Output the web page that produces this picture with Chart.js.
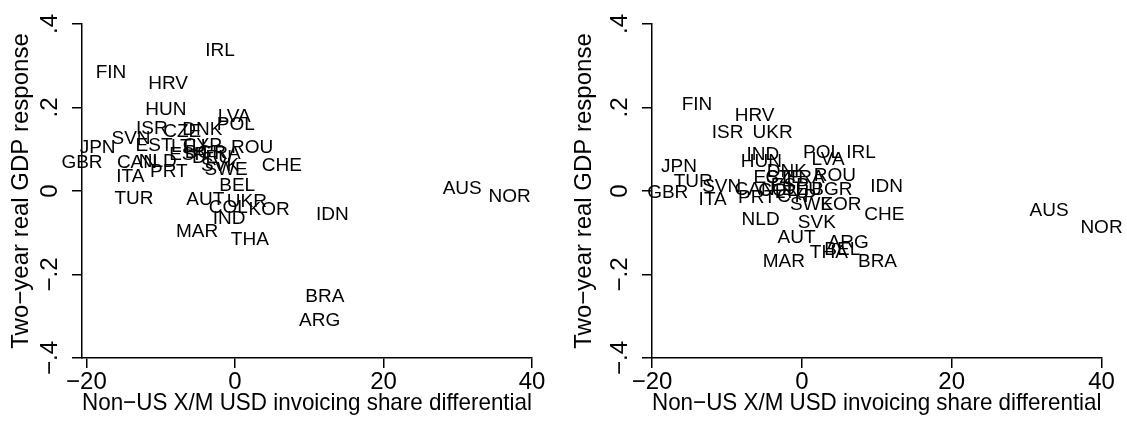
<!DOCTYPE html>
<html>
<head>
<meta charset="utf-8">
<script src="https://cdn.jsdelivr.net/npm/chart.js@4.4.0/dist/chart.umd.min.js"></script>
<style>
  html, body { margin: 0; padding: 0; background: #fff; overflow: hidden; }
  #wrap { display: flex; width: 1127px; height: 421px; }
  canvas { display: block; }
</style>
</head>
<body>
<div id="wrap">
  <canvas id="left" width="563" height="421"></canvas>
  <canvas id="right" width="564" height="421"></canvas>
</div>
<script>
  // left panel
  var leftCountries = ["IRL", "FIN", "HRV", "HUN", "LVA", "POL", "ISR", "CZE", "DNK", "SVN",
                       "EST", "LTU", "CYP", "ROU", "JPN", "GBR", "CAN", "NLD", "ESP", "BGR",
                       "DEU", "FRA", "PRT", "ITA", "SVK", "SWE", "CHE", "TUR", "BEL", "AUT",
                       "COL", "UKR", "KOR", "IND", "MAR", "THA", "IDN", "AUS", "NOR", "BRA", "ARG"];
  var leftX = [-2.0, -16.7, -9.0, -9.3, -0.1, 0.1, -11.2, -7.1, -4.4, -14.0,
               -10.9, -6.3, -4.4, 2.3, -18.5, -20.6, -13.2, -10.4, -6.3, -4.0,
               -3.1, -1.8, -8.9, -14.1, -2.0, -1.2, 6.3, -13.6, 0.3, -4.0,
               -0.9, 1.6, 4.6, -0.8, -5.1, 2.0, 13.1, 30.6, 37.0, 12.1, 11.4];
  var leftY = [0.336, 0.283, 0.257, 0.194, 0.178, 0.158, 0.149, 0.142, 0.146, 0.125,
               0.108, 0.106, 0.108, 0.103, 0.103, 0.067, 0.067, 0.070, 0.086, 0.091,
               0.079, 0.089, 0.046, 0.034, 0.060, 0.050, 0.060, -0.019, 0.012, -0.022,
               -0.041, -0.026, -0.046, -0.067, -0.098, -0.118, -0.058, 0.005, -0.014, -0.254, -0.310];

  // right panel
  var rightCountries = ["FIN", "HRV", "ISR", "UKR", "IND", "HUN", "POL", "LVA", "IRL", "JPN",
                        "DNK", "TUR", "SVN", "GBR", "EST", "CZE", "ESP", "FRA", "ROU", "CAN",
                        "PRT", "ITA", "DEU", "COL", "LTU", "CYP", "BGR", "IDN", "SWE", "KOR",
                        "CHE", "NLD", "SVK", "AUT", "ARG", "THA", "BEL", "MAR", "BRA", "AUS", "NOR"];
  var rightX = [-14.0, -6.3, -9.9, -3.9, -5.2, -5.4, 2.7, 3.5, 7.9, -16.4,
                -2.0, -14.5, -10.7, -17.9, -4.0, -2.3, -1.6, 0.5, 4.4, -6.3,
                -6.0, -11.9, 0.0, -3.2, -1.3, -0.7, 4.0, 11.3, 1.3, 5.2,
                11.0, -5.5, 2.0, -0.7, 6.2, 3.6, 5.4, -2.4, 10.1, 33.0, 40.0];
  var rightY = [0.206, 0.180, 0.139, 0.139, 0.086, 0.069, 0.091, 0.074, 0.091, 0.057,
                0.046, 0.022, 0.010, -0.005, 0.031, 0.031, 0.012, 0.031, 0.036, 0.002,
                -0.017, -0.022, 0.002, 0.000, -0.005, -0.014, 0.002, 0.010, -0.034, -0.034,
                -0.058, -0.069, -0.077, -0.113, -0.125, -0.149, -0.141, -0.170, -0.170, -0.048, -0.089];

  var xTicks = [-20, 0, 20, 40];
  var xTickLabels = ["\u221220", "0", "20", "40"];
  var yTicks = [-0.4, -0.2, 0, 0.2, 0.4];
  var yTickLabels = ["\u2212.4", "\u2212.2", "0", ".2", ".4"];

  var xTitle = "Non\u2212US X/M USD invoicing share differential";
  var yTitle = "Two\u2212year real GDP response";

  var FONT = '"Liberation Sans", Arial, Helvetica, sans-serif';
  Chart.defaults.font.family = FONT;
  Chart.defaults.color = '#000';

  // draw the country codes at each point
  var countryLabels = {
    id: 'countryLabels',
    afterDatasetsDraw: function (chart) {
      var ctx = chart.ctx;
      var meta = chart.getDatasetMeta(0);
      var pts = chart.data.datasets[0].data;
      ctx.save();
      ctx.font = '19px ' + FONT;
      ctx.fillStyle = '#000';
      ctx.textAlign = 'center';
      ctx.textBaseline = 'middle';
      meta.data.forEach(function (el, i) {
        ctx.fillText(pts[i].name, el.x, el.y);
      });
      ctx.restore();
    }
  };

  function makeChart(id, names, xs, ys, xMin, yAxisWidth, padRight) {
    var points = [];
    for (var i = 0; i < names.length; i++) {
      points.push({x: xs[i], y: ys[i], name: names[i]});
    }
    return new Chart(document.getElementById(id), {
      type: 'scatter',
      data: {
        datasets: [{
          data: points,
          pointRadius: 0,
          pointHoverRadius: 0,
          clip: false
        }]
      },
      options: {
        responsive: false,
        animation: false,
        events: [],
        layout: {padding: {left: 0, top: 24, right: padRight, bottom: 0}},
        plugins: {legend: {display: false}, tooltip: {enabled: false}},
        scales: {
          x: {
            type: 'linear',
            min: xMin,
            max: 40,
            afterBuildTicks: function (scale) {
              scale.ticks = xTicks.map(function (v) { return {value: v}; });
            },
            afterFit: function (scale) { scale.height = 421 - 358; },
            ticks: {
              autoSkip: false,
              maxRotation: 0,
              minRotation: 0,
              padding: 0,
              font: {size: 24},
              callback: function (v) { return xTickLabels[xTicks.indexOf(v)]; }
            },
            grid: {display: true, drawOnChartArea: false, drawTicks: true, tickLength: 10, color: '#000', lineWidth: 1.5},
            border: {display: true, color: '#000', width: 1.5},
            title: {display: true, text: xTitle, font: {size: 24}, padding: {top: 0, bottom: 3}}
          },
          y: {
            type: 'linear',
            min: -0.4,
            max: 0.4,
            afterBuildTicks: function (scale) {
              scale.ticks = yTicks.map(function (v) { return {value: v}; });
            },
            afterFit: function (scale) { scale.width = yAxisWidth; },
            ticks: {
              autoSkip: false,
              minRotation: 90,
              maxRotation: 90,
              crossAlign: 'center',
              padding: 5,
              font: {size: 24},
              callback: function (v) { return yTickLabels[yTicks.indexOf(v)]; }
            },
            grid: {display: true, drawOnChartArea: false, drawTicks: true, tickLength: 10, color: '#000', lineWidth: 1.5},
            border: {display: true, color: '#000', width: 1.5},
            title: {display: true, text: yTitle, font: {size: 24}, padding: {top: 7, bottom: 0}}
          }
        }
      },
      plugins: [countryLabels]
    });
  }

  makeChart('left', leftCountries, leftX, leftY, -20.6, 82, 563 - 532);
  makeChart('right', rightCountries, rightX, rightY, -20, 89, 564 - 538.5);
</script>
</body>
</html>
